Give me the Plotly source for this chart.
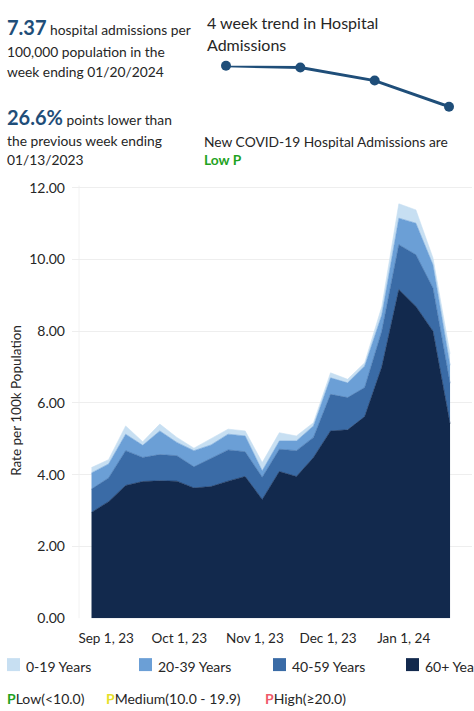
import plotly.graph_objects as go
import pandas as pd

# ---------------- data ----------------
week_ending = pd.date_range("2023-08-26", "2024-01-20", freq="7D")
age_groups = ["0-19 Years", "20-39 Years", "40-59 Years", "60+ Years"]
rate_60_plus = [2.95, 3.25, 3.70, 3.81, 3.83, 3.82, 3.63, 3.67, 3.82, 3.95, 3.31,
                4.09, 3.95, 4.48, 5.22, 5.25, 5.62, 7.00, 9.16, 8.69, 8.00, 5.42]
rate_40_59 = [0.65, 0.66, 0.97, 0.67, 0.73, 0.71, 0.59, 0.79, 0.87, 0.69, 0.62,
              0.62, 0.72, 0.56, 1.02, 0.90, 0.81, 1.00, 1.25, 1.44, 1.20, 1.13]
rate_20_39 = [0.45, 0.39, 0.46, 0.34, 0.66, 0.37, 0.45, 0.37, 0.44, 0.44, 0.18,
              0.23, 0.27, 0.32, 0.46, 0.41, 0.60, 0.45, 0.74, 0.88, 0.65, 0.50]
rate_0_19 = [0.15, 0.12, 0.23, 0.10, 0.19, 0.14, 0.07, 0.17, 0.14, 0.14, 0.23,
             0.23, 0.14, 0.09, 0.14, 0.10, 0.09, 0.23, 0.40, 0.37, 0.19, 0.32]
x_tick_dates = ["2023-09-01", "2023-10-01", "2023-11-01", "2023-12-01", "2024-01-01"]
x_tick_labels = ["Sep 1, 23", "Oct 1, 23", "Nov 1, 23", "Dec 1, 23", "Jan 1, 24"]
y_tick_values = [0, 2, 4, 6, 8, 10, 12]
y_tick_labels = ["0.00", "2.00", "4.00", "6.00", "8.00", "10.00", "12.00"]
levels = ["Low(<10.0)", "Medium(10.0 - 19.9)", "High(≥20.0)"]

totals = [a + b + c + d for a, b, c, d in zip(rate_60_plus, rate_40_59, rate_20_39, rate_0_19)]
current = totals[-1]
previous = totals[-2]
pct_lower = (previous - current) / previous * 100

# ---------------- styling ----------------
W, H = 474, 711
H_EFF = 703  # observed effective vertical scale of the rendered page
FONT = "Lato"
TXT = "#262626"
BLUE = "#1f4e79"
colors = {"0-19 Years": "#c7dff2", "20-39 Years": "#6b9fd6",
          "40-59 Years": "#3a6ba6", "60+ Years": "#12294d"}
level_colors = ["#1fa31f", "#e6df2a", "#ef5a6a"]


def px(x):
    return x / W


def py(y):
    return 1 - y / H_EFF


fig = go.Figure()
series = [("60+ Years", rate_60_plus), ("40-59 Years", rate_40_59),
          ("20-39 Years", rate_20_39), ("0-19 Years", rate_0_19)]
for name, vals in series:
    fig.add_trace(go.Scatter(
        x=week_ending, y=vals, name=name, stackgroup="one", mode="lines",
        line=dict(width=0.6, color=colors[name]), fillcolor=colors[name],
        showlegend=False, hoverinfo="x+y+name"))

# sparkline of last four weeks
fig.add_trace(go.Scatter(
    x=list(range(4)), y=totals[-4:], xaxis="x2", yaxis="y2", mode="lines+markers",
    line=dict(color=BLUE, width=3), marker=dict(size=10, color=BLUE),
    cliponaxis=False, showlegend=False))

fig.update_layout(
    width=W, height=H, margin=dict(l=0, r=0, t=0, b=0),
    paper_bgcolor="white", plot_bgcolor="white",
    font=dict(family=FONT, size=13, color=TXT),
    xaxis=dict(domain=[px(72), px(472)], range=["2023-08-18", "2024-01-29"],
               type="date", tickvals=x_tick_dates, ticktext=x_tick_labels,
               showgrid=False, zeroline=False, showline=False,
               ticks="", ticklabelstandoff=10,
               tickfont=dict(size=13.5, color=TXT)),
    yaxis=dict(domain=[py(618), py(179)], range=[0, 12.2],
               tickvals=y_tick_values, ticktext=y_tick_labels,
               showgrid=True, gridcolor="#eeeeee", gridwidth=1,
               zeroline=False, showline=False, ticks="", ticklabelstandoff=6,
               tickfont=dict(size=14, color=TXT)),
    xaxis2=dict(domain=[px(226), px(449)], range=[0, 3], visible=False,
                anchor="y2", fixedrange=True),
    yaxis2=dict(domain=[py(105), py(64)], range=[min(totals[-4:]), max(totals[-4:])],
                visible=False, anchor="x2", fixedrange=True),
)

ann = []


def add_text(x, y, text, size=13.8, color=TXT, **kw):
    ann.append(dict(x=px(x), y=py(y), xref="paper", yref="paper", text=text,
                    showarrow=False, xanchor="left", yanchor="middle",
                    font=dict(family=FONT, size=size, color=color), **kw))


# header text
add_text(5, 25, f"<b><span style='font-size:20px;color:{BLUE}'>{current:.2f}</span></b> hospital admissions per")
add_text(5, 50, "100,000 population in the")
add_text(5, 70, "week ending 01/20/2024")
add_text(5, 115, f"<b><span style='font-size:20px;color:{BLUE}'>{pct_lower:.1f}%</span></b> points lower than")
add_text(5, 139, "the previous week ending")
add_text(5, 158, "01/13/2023")
add_text(205, 21, "4 week trend in Hospital", size=16)
add_text(205, 43, "Admissions", size=16)
add_text(202, 140, "New COVID-19 Hospital Admissions are")
add_text(202, 158, f"<b><span style='color:{level_colors[0]}'>Low P</span></b>")

# y axis title
ann.append(dict(x=px(16), y=py(400), xref="paper", yref="paper",
                text="Rate per 100k Population", showarrow=False, textangle=-90,
                xanchor="center", yanchor="middle",
                font=dict(family=FONT, size=13.5, color=TXT)))

# faint axis rule
shapes = [dict(type="line", xref="paper", yref="paper", x0=px(79), x1=px(79),
               y0=py(618), y1=py(184), line=dict(color="#f2f2f2", width=1), layer="below")]

# legend
legend_x = [7, 139, 273, 406]
for name, lx in zip(age_groups, legend_x):
    shapes.append(dict(type="rect", xref="paper", yref="paper",
                       x0=px(lx), x1=px(lx + 13), y0=py(671), y1=py(658),
                       fillcolor=colors[name], line=dict(width=0)))
    add_text(lx + 17, 666, name, size=14)

# level key
level_x = [5, 104, 263]
for lvl, lx, c in zip(levels, level_x, level_colors):
    add_text(lx, 698, f"<b><span style='color:{c}'>P</span></b>{lvl}", size=14)

fig.update_layout(annotations=ann, shapes=shapes)
fig.write_html("out.html", config={"displayModeBar": False},
               post_script="document.body.style.margin='0';document.body.style.overflow='hidden';")
